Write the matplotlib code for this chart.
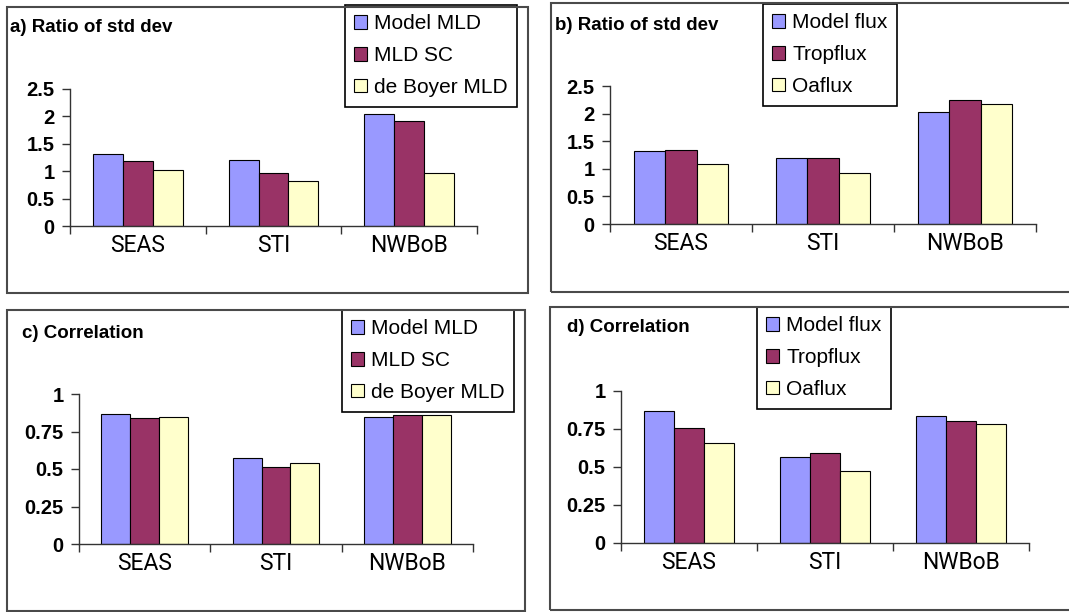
import numpy as np
import matplotlib.pyplot as plt
from matplotlib.patches import Rectangle

plt.rcParams['font.family'] = ['Liberation Sans', 'DejaVu Sans']

W, H = 1069, 612

regions = ['SEAS', 'STI', 'NWBoB']

# a) ratio of std dev, MLD
mld_labels = ['Model MLD', 'MLD SC', 'de Boyer MLD']
std_model_mld = [1.32, 1.20, 2.05]
std_mld_sc = [1.19, 0.97, 1.92]
std_deboyer = [1.02, 0.82, 0.96]

# b) ratio of std dev, flux
flux_labels = ['Model flux', 'Tropflux', 'Oaflux']
std_model_flux = [1.32, 1.19, 2.03]
std_tropflux = [1.34, 1.19, 2.25]
std_oaflux = [1.09, 0.92, 2.18]

# c) correlation, MLD
cor_model_mld = [0.87, 0.575, 0.845]
cor_mld_sc = [0.838, 0.511, 0.862]
cor_deboyer = [0.845, 0.54, 0.862]

# d) correlation, flux
cor_model_flux = [0.868, 0.566, 0.838]
cor_tropflux = [0.757, 0.595, 0.805]
cor_oaflux = [0.658, 0.472, 0.786]

std_ticks = [0, 0.5, 1, 1.5, 2, 2.5]
std_ticklabels = ['0', '0.5', '1', '1.5', '2', '2.5']
cor_ticks = [0, 0.25, 0.5, 0.75, 1]
cor_ticklabels = ['0', '0.25', '0.5', '0.75', '1']

colors = ['#9999FF', '#993366', '#FFFFCC']
cat_font = ['Liberation Sans Narrow', 'Roboto', 'DejaVu Sans']


def frac_box(x0, y0, x1, y1):
    # pixel box (top-left origin) -> figure fraction [left, bottom, width, height]
    return [x0 / W, 1 - y1 / H, (x1 - x0) / W, (y1 - y0) / H]


def panel(fig, frame, axbox, title, tpos, series, labels, ticks, ticklabels,
          legbox):
    fx0, fy0, fx1, fy1 = frame
    fig.patches.append(Rectangle((fx0 / W, 1 - fy1 / H), (fx1 - fx0) / W,
                                 (fy1 - fy0) / H, transform=fig.transFigure,
                                 fill=False, edgecolor='#4a4a4a', lw=1.5,
                                 zorder=0))
    fig.text(tpos[0] / W, 1 - tpos[1] / H, title, fontsize=13.5,
             fontweight='bold', va='center', ha='left')

    ax = fig.add_axes(frac_box(*axbox))
    x = np.arange(len(regions))
    bw = 0.22
    handles = []
    for i, (vals, lab) in enumerate(zip(series, labels)):
        h = ax.bar(x + (i - 1) * bw, vals, bw, color=colors[i],
                   edgecolor='black', linewidth=0.8, label=lab)
        handles.append(h)

    ax.set_xlim(-0.5, 2.5)
    ax.set_ylim(ticks[0], ticks[-1])
    ax.set_yticks(ticks)
    ax.set_yticklabels(ticklabels, fontsize=14.5, fontweight='bold')
    ax.set_xticks([-0.5, 0.5, 1.5, 2.5])
    ax.set_xticklabels([])
    ax.set_xticks(x, minor=True)
    ax.set_xticklabels(regions, minor=True, fontsize=16.5, family=cat_font)
    ax.tick_params(axis='x', which='major', direction='out', length=6,
                   width=1, color='#333333')
    ax.tick_params(axis='x', which='minor', length=0, pad=6)
    ax.tick_params(axis='y', direction='out', length=6, width=1,
                   color='#333333', pad=5)
    for s in ['top', 'right']:
        ax.spines[s].set_visible(False)
    for s in ['left', 'bottom']:
        ax.spines[s].set_color('#333333')
        ax.spines[s].set_linewidth(1)
    ax.patch.set_alpha(0)

    lx0, ly0, lx1, ly1 = legbox
    leg = ax.legend(handles=handles, loc='upper left',
                    bbox_to_anchor=(lx0 / W, 1 - ly0 / H),
                    bbox_transform=fig.transFigure, fontsize=15,
                    frameon=True, fancybox=False, framealpha=1,
                    edgecolor='black', handlelength=0.6, handleheight=0.6,
                    handletextpad=0.35, labelspacing=0.62, borderpad=0.45,
                    borderaxespad=0)
    leg.get_frame().set_linewidth(1.2)
    return ax


fig = plt.figure(figsize=(W / 100, H / 100), dpi=100)

panel(fig, (7, 7, 528, 293), (70, 89, 477, 226), 'a) Ratio of std dev',
      (10, 27), [std_model_mld, std_mld_sc, std_deboyer], mld_labels,
      std_ticks, std_ticklabels, (345, 5, 515, 107))

panel(fig, (551, 3, 1075, 292), (610, 86, 1036, 224), 'b) Ratio of std dev',
      (555, 25), [std_model_flux, std_tropflux, std_oaflux], flux_labels,
      std_ticks, std_ticklabels, (763, 4, 892, 104))

panel(fig, (7, 310, 525, 611), (79, 394, 473, 544), 'c) Correlation',
      (22, 333), [cor_model_mld, cor_mld_sc, cor_deboyer], mld_labels,
      cor_ticks, cor_ticklabels, (342, 310, 512, 409))

panel(fig, (550, 307, 1075, 610), (621, 391, 1029, 543), 'd) Correlation',
      (567, 328), [cor_model_flux, cor_tropflux, cor_oaflux], flux_labels,
      cor_ticks, cor_ticklabels, (757, 307, 887, 407))

fig.savefig('out.png', dpi=100, facecolor='white')
